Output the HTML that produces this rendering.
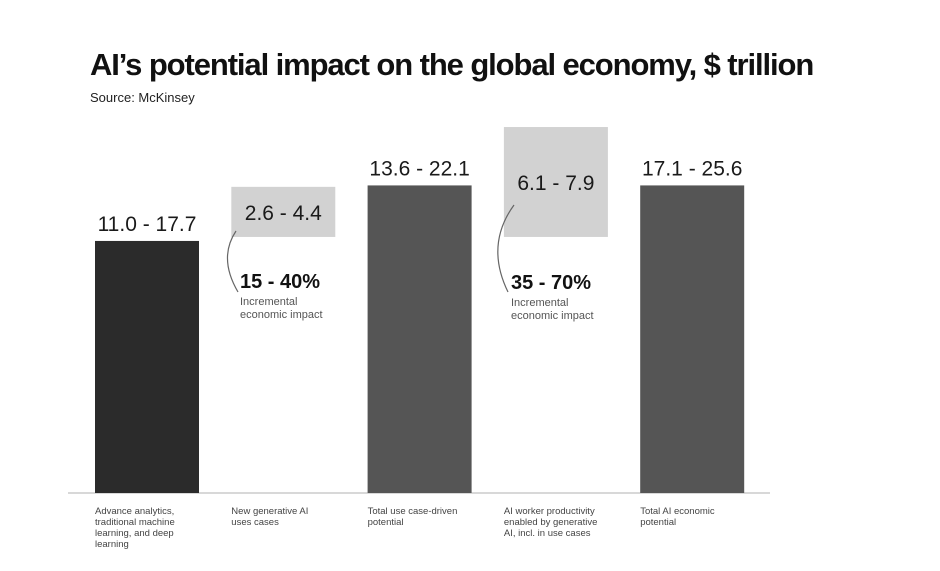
<!DOCTYPE html>
<html><head><meta charset="utf-8"><style>
body{margin:0;background:#fff;}
svg{display:block;font-family:"Liberation Sans",sans-serif;}
</style></head><body>
<svg width="940" height="571" viewBox="0 0 940 571">
<text x="90" y="75" font-size="31" font-weight="bold" fill="#111" letter-spacing="-1.1">AI’s potential impact on the global economy, $ trillion</text>
<text x="90" y="102" font-size="13" fill="#222">Source: McKinsey</text>
<line x1="68" y1="493" x2="770" y2="493" stroke="#ccc" stroke-width="1.5"/>
<g id="bars"></g>
<g>
<path d="M236 231 Q218 258 238 292" fill="none" stroke="#666" stroke-width="1.2"/>
<text x="240" y="288" font-size="20" font-weight="bold" fill="#111">15 - 40%</text>
<text x="240" y="305" font-size="11" fill="#555">Incremental</text>
<text x="240" y="318" font-size="11" fill="#555">economic impact</text>
</g>
<g>
<path d="M514 205 Q485 245 508 292" fill="none" stroke="#666" stroke-width="1.2"/>
<text x="511" y="289" font-size="20" font-weight="bold" fill="#111">35 - 70%</text>
<text x="511" y="306" font-size="11" fill="#555">Incremental</text>
<text x="511" y="319" font-size="11" fill="#555">economic impact</text>
</g>
</svg>
<script>
const categories=[["Advance analytics,","traditional machine","learning, and deep","learning"],["New generative AI","uses cases"],["Total use case-driven","potential"],["AI worker productivity","enabled by generative","AI, incl. in use cases"],["Total AI economic","potential"]];
const valueLabels=["11.0 - 17.7","2.6 - 4.4","13.6 - 22.1","6.1 - 7.9","17.1 - 25.6"];
const barStart=[0,17.98,0,17.98,0];
const barEnd=[17.7,21.5,21.6,25.7,21.6];
const colors=["#2b2b2b","#d2d2d2","#555555","#d2d2d2","#555555"];
const NS="http://www.w3.org/2000/svg";
const g=document.getElementById('bars');
const y=v=>493-v*14.24;
const x=i=>95+i*136.3;
const bw=104;
function mk(t,a){const e=document.createElementNS(NS,t);for(const k in a)e.setAttribute(k,a[k]);return e;}
categories.forEach((c,i)=>{
  const top=y(barEnd[i]),bot=y(barStart[i]);
  const r=mk('rect',{x:x(i),y:top,width:bw,height:bot-top,fill:colors[i]});
  
  
  g.appendChild(r);
  const floating=barStart[i]>0;
  const lt=mk('text',{x:x(i)+bw/2,y:floating?(top+bot)/2+8:top-10,'font-size':21,'text-anchor':'middle',fill:'#1a1a1a'});
  lt.textContent=valueLabels[i];
  
  
  g.appendChild(lt);
  c.forEach((line,j)=>{
    const t=mk('text',{x:x(i),y:514+j*11,'font-size':9.5,fill:'#444'});
    t.textContent=line;
    
    
    g.appendChild(t);
  });
});
</script>
</body></html>
